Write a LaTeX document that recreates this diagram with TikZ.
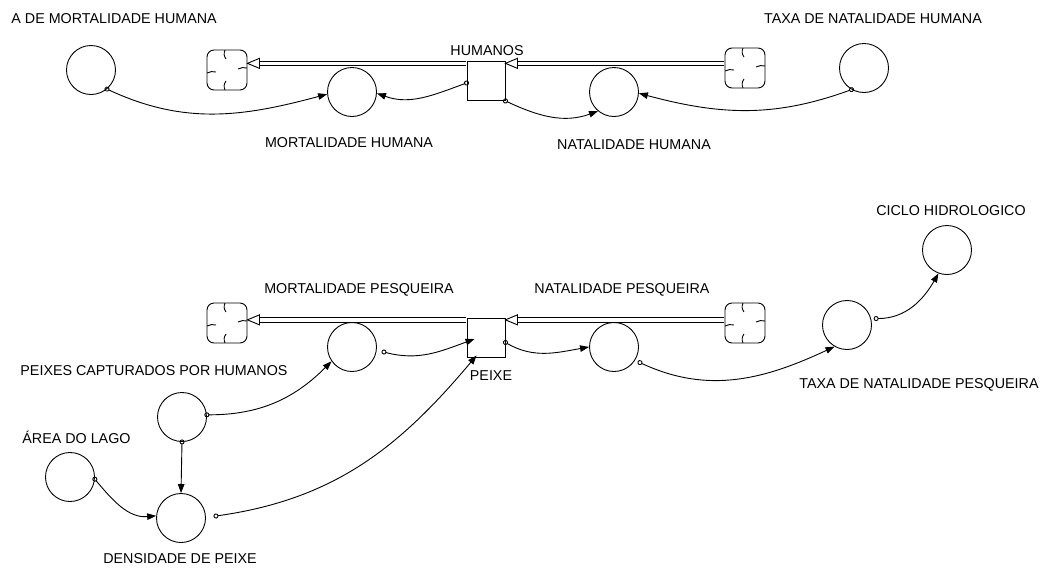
\documentclass[tikz,border=0pt]{standalone}
\usepackage{fontspec}
\setmainfont{Liberation Sans}
\usetikzlibrary{arrows.meta}

\tikzset{
  stock/.style={draw, minimum width=38pt, minimum height=39pt, inner sep=0pt},
  aux/.style={draw, circle, minimum size=49pt, inner sep=0pt},
  sink/.style={draw, rounded corners=7pt, minimum width=40pt, minimum height=40pt, inner sep=0pt,
    path picture={
      \draw ([xshift=-2pt]path picture bounding box.north) to[bend right=30] ++(1pt,-9pt);
      \draw ([xshift=-2pt]path picture bounding box.south) to[bend left=30] ++(1pt,9pt);
      \draw ([yshift=-3pt]path picture bounding box.west) to[bend left=20] ++(9pt,1pt);
      \draw ([yshift=2pt]path picture bounding box.east) to[bend right=20] ++(-9pt,-1pt);
    }},
  lbl/.style={font=\fontsize{14.3}{17}\selectfont, anchor=base, inner sep=0pt},
  link/.style={{Circle[open,length=5pt]}-{Triangle[length=9pt,width=6.5pt]}, shorten <=-2.5pt},
  pipe/.style={double, double distance=3.6pt},
  pipehead/.pic={\draw[fill=white] (0,0) -- (12,5) -- (12,-5) -- cycle;}
}

\begin{document}
\begin{tikzpicture}[x=1pt,y=1pt,line width=0.9pt]
  \useasboundingbox (0,0) rectangle (1042,-568);

  \node[stock] (hum) at (486,-81) {};
  \node[sink] (cl1) at (227,-70) {};
  \node[sink] (cl2) at (745,-68) {};
  \node[aux] (amort) at (91,-70) {};
  \node[aux] (mh) at (352,-92) {};
  \node[aux] (nh) at (614,-92) {};
  \node[aux] (tnh) at (864,-68) {};

  \node[stock] (peixe) at (486,-337.5) {};
  \node[sink] (cl3) at (227,-323) {};
  \node[sink] (cl4) at (745,-323) {};
  \node[aux] (mp) at (352,-347) {};
  \node[aux] (np) at (614,-347) {};
  \node[aux] (tnp) at (847,-325) {};
  \node[aux] (ciclo) at (947,-250) {};
  \node[aux] (pc) at (182,-417) {};
  \node[aux] (area) at (70,-477) {};
  \node[aux] (dens) at (181,-518) {};

  \node[lbl, anchor=base west] (l-amort) at (11,-23) {A DE MORTALIDADE HUMANA};
  \node[lbl] (l-hum) at (487,-55) {HUMANOS};
  \node[lbl] (l-tnh) at (873,-23) {TAXA DE NATALIDADE HUMANA};
  \node[lbl] (l-mh) at (349,-147) {MORTALIDADE HUMANA};
  \node[lbl] (l-nh) at (634,-149) {NATALIDADE HUMANA};
  \node[lbl] (l-ciclo) at (951,-215) {CICLO HIDROLOGICO};
  \node[lbl] (l-mp) at (359,-293) {MORTALIDADE PESQUEIRA};
  \node[lbl] (l-np) at (622,-293) {NATALIDADE PESQUEIRA};
  \node[lbl, anchor=base west] (l-pc) at (20,-375) {PEIXES CAPTURADOS POR HUMANOS};
  \node[lbl] (l-peixe) at (491,-380) {PEIXE};
  \node[lbl, anchor=base east] (l-tnp) at (1039,-388) {TAXA DE NATALIDADE PESQUEIRA};
  \node[lbl, anchor=base west] (l-area) at (22,-443) {ÁREA DO LAGO};
  \node[lbl] (l-dens) at (180,-563) {DENSIDADE DE PEIXE};

  \coordinate (ph) at ([yshift=-2.3pt]hum.north west);
  \coordinate (hl) at (ph -| cl1.east);
  \draw[pipe] ([xshift=-0.5pt]ph) -- ([xshift=12pt]hl);
  \pic at (hl) {pipehead};
  \coordinate (pr) at ([yshift=-2.3pt]hum.north east);
  \coordinate (hr) at (pr -| cl2.west);
  \draw[pipe] ([xshift=-0.5pt]hr) -- ([xshift=12pt]pr);
  \pic at (pr) {pipehead};

  \coordinate (qh) at ([yshift=-2.3pt]peixe.north west);
  \coordinate (ql) at (qh -| cl3.east);
  \draw[pipe] ([xshift=-0.5pt]qh) -- ([xshift=12pt]ql);
  \pic at (ql) {pipehead};
  \coordinate (qr) at ([yshift=-2.3pt]peixe.north east);
  \coordinate (qs) at (qr -| cl4.west);
  \draw[pipe] ([xshift=-0.5pt]qs) -- ([xshift=12pt]qr);
  \pic at (qr) {pipehead};

  \draw[link] (amort.-50) to[out=-25,in=195] (mh.185);
  \draw[link] ([yshift=-2pt]hum.west) to[out=200,in=-20] (mh.-3);
  \draw[link] (hum.south east) to[out=-25,in=200] (nh.230);
  \draw[link] (tnh.240) to[out=200,in=-15] (nh.-3);

  \draw[link] ([xshift=7pt,yshift=-5pt]mp.east) to[out=-15,in=200] ([xshift=8pt,yshift=-1.5pt]peixe.west);
  \draw[link] ([yshift=-5pt]peixe.east) to[out=-30,in=190] (np.west);
  \draw[link] ([xshift=5pt,yshift=-2pt]np.-33) to[out=-25,in=205] (tnp.240);
  \draw[link] ([xshift=5pt]tnp.15) to[out=0,in=240] (ciclo.250);
  \draw[link] (pc.5) to[out=0,in=225] (mp.215);
  \draw[link] (pc.south) -- (dens.north);
  \draw[link] (area.-5) to[out=-50,in=185] (dens.175);
  \draw[link] ([xshift=10pt,yshift=2pt]dens.east) to[out=8,in=230] ([xshift=10pt,yshift=2pt]peixe.south west);
\end{tikzpicture}
\end{document}
